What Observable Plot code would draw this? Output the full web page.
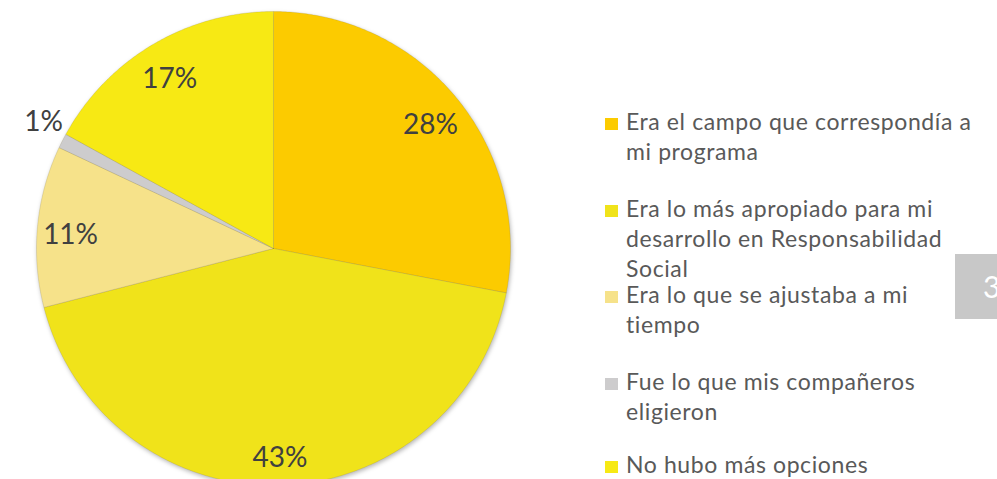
<!DOCTYPE html>
<html>
<head>
<meta charset="utf-8">
<script src="https://cdn.jsdelivr.net/npm/d3@7"></script>
<script src="https://cdn.jsdelivr.net/npm/@observablehq/plot@0.6"></script>
<style>
  html, body { margin: 0; padding: 0; background: #fff; }
  #wrap { position: relative; width: 997px; height: 479px; overflow: hidden; font-family: Lato, "Open Sans", sans-serif; }
  #wrap svg { position: absolute; left: 0; top: 0; }
  .legend { position: absolute; left: 605px; width: 372px; }
  .item { position: absolute; left: 0; width: 372px; }
  .sw { position: absolute; left: 0; width: 13px; height: 12px; }
  .lbl { position: absolute; left: 21px; width: 354px; font-size: 23px; line-height: 30px; color: #595959; letter-spacing: 0.6px; }
  .pg { position: absolute; left: 955px; top: 254px; width: 60px; height: 65px; background: #c8c8c8; color: #fff; font-size: 30px; line-height: 65px; padding-left: 28px; box-sizing: border-box; }
</style>
</head>
<body>
<div id="wrap"></div>
<script>
// Data
const categories = [
  "Era el campo que correspondía a mi programa",
  "Era lo más apropiado para mi desarrollo en Responsabilidad Social",
  "Era lo que se ajustaba a mi tiempo",
  "Fue lo que mis compañeros eligieron",
  "No hubo más opciones"
];
const values = [28, 43, 11, 1, 17];
const labels = ["28%", "43%", "11%", "1%", "17%"];
const colors = ["#fccb00", "#f0e31a", "#f6e28a", "#cdcccd", "#f7e914"];

// Pie geometry computed from the data
const pie = d3.pie().sort(null).value(d => d)(values);
const slicePts = [];
pie.forEach((p, i) => {
  slicePts.push({k: i, x: 0, y: 0});
  const n = Math.max(2, Math.ceil((p.endAngle - p.startAngle) / 0.01));
  for (let j = 0; j <= n; j++) {
    const a = p.startAngle + (p.endAngle - p.startAngle) * j / n;
    slicePts.push({k: i, x: Math.sin(a), y: Math.cos(a)});
  }
  slicePts.push({k: i, x: 0, y: 0});
});
const labelPts = pie.map((p, i) => {
  const outside = values[i] < 3;
  const a = outside ? p.endAngle + 0.02 : (p.startAngle + p.endAngle) / 2;
  const r = outside ? 1.12 : 0.86;
  return {x: r * Math.sin(a), y: r * Math.cos(a), t: labels[i]};
});

const R = 237, cx = 273, cy = 248;
const chart = Plot.plot({
  width: 997,
  height: 479,
  margin: 0,
  style: {background: "transparent", fontFamily: "Lato, sans-serif"},
  x: {domain: [-1, 1], range: [cx - R, cx + R], axis: null},
  y: {domain: [-1, 1], range: [cy + R, cy - R], axis: null},
  color: {domain: d3.range(categories.length), range: colors},
  marks: [
    Plot.line(slicePts, {x: "x", y: "y", z: "k", fill: d => d.k, stroke: "rgba(120,110,60,0.35)", strokeWidth: 0.5, curve: "linear"}),
    Plot.text(labelPts, {x: "x", y: "y", text: "t", fontSize: 28, fill: "#404040", textAnchor: "middle", dy: 6})
  ]
});
const lineG = chart.querySelector('g[aria-label="line"]');
if (lineG) lineG.style.filter = "drop-shadow(1px 2px 2px rgba(0,0,0,0.28))";
const wrap = document.getElementById("wrap");
wrap.appendChild(chart);

// Legend
const tops = [106, 193, 279, 366, 449];
const legend = document.createElement("div");
legend.className = "legend";
legend.style.top = "0px";
categories.forEach((c, i) => {
  const it = document.createElement("div");
  it.className = "item";
  it.style.top = tops[i] + "px";
  const sw = document.createElement("div");
  sw.className = "sw";
  sw.style.background = colors[i];
  sw.style.top = "12px";
  const lb = document.createElement("div");
  lb.className = "lbl";
  lb.textContent = c;
  it.appendChild(sw);
  it.appendChild(lb);
  legend.appendChild(it);
});
wrap.appendChild(legend);
const pg = document.createElement("div");
pg.className = "pg";
pg.textContent = "3";
wrap.appendChild(pg);
</script>
</body>
</html>
